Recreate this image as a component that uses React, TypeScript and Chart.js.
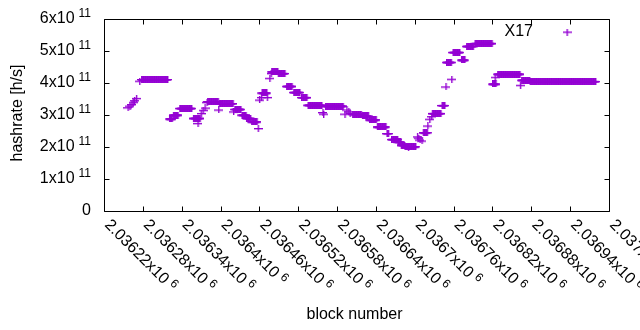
import React, { useEffect, useRef } from "react";
import { Chart, registerables } from "chart.js";

Chart.register(...registerables);

const seriesName = "X17";
const xTitle = "block number";
const yTitle = "hashrate [h/s]";
const xMin = 2036220;
const xMax = 2037000;
const xStep = 60;
const yMin = 0;
const yMax = 6e11;
const yStep = 1e11;
const xExponent = 6;
const yExponent = 11;
const seriesColor = "#9400d3";

// runs of consecutive blocks sharing one hashrate value (single points have start === end)
const runStart = [
  2036257, 2036260, 2036263, 2036265, 2036267, 2036270, 2036275, 2036278, 2036321, 2036327,
  2036337, 2036358, 2036365, 2036370, 2036373, 2036376, 2036379, 2036380, 2036397, 2036398,
  2036420, 2036422, 2036433, 2036440, 2036448, 2036458, 2036460, 2036463, 2036464, 2036472,
  2036476, 2036478, 2036479, 2036489, 2036502, 2036513, 2036525, 2036535, 2036558, 2036559,
  2036562, 2036592, 2036595, 2036598, 2036600, 2036604, 2036619, 2036630, 2036642, 2036657,
  2036664, 2036674, 2036679, 2036685, 2036690, 2036704, 2036706, 2036708, 2036711, 2036713,
  2036720, 2036723, 2036726, 2036727, 2036742, 2036748, 2036749, 2036757, 2036759, 2036772,
  2036780, 2036793, 2036820, 2036824, 2036828, 2036863, 2036865, 2036878,
];
const runEnd = [
  2036257, 2036260, 2036263, 2036265, 2036267, 2036270, 2036275, 2036318, 2036325, 2036334,
  2036355, 2036368, 2036365, 2036370, 2036373, 2036376, 2036379, 2036396, 2036397, 2036419,
  2036420, 2036431, 2036439, 2036446, 2036456, 2036458, 2036460, 2036463, 2036471, 2036472,
  2036476, 2036478, 2036488, 2036499, 2036510, 2036522, 2036533, 2036556, 2036558, 2036559,
  2036589, 2036592, 2036595, 2036598, 2036600, 2036617, 2036628, 2036640, 2036655, 2036659,
  2036673, 2036678, 2036684, 2036701, 2036690, 2036704, 2036706, 2036708, 2036711, 2036719,
  2036720, 2036723, 2036726, 2036740, 2036746, 2036748, 2036756, 2036757, 2036769, 2036777,
  2036790, 2036819, 2036825, 2036824, 2036862, 2036863, 2036877, 2036979,
];
const runHashrate = [
  3.23e11, 3.28e11, 3.33e11, 3.4e11, 3.45e11, 3.52e11, 4.06e11, 4.11e11, 2.88e11, 3.0e11,
  3.21e11, 2.9e11, 2.74e11, 3.05e11, 3.15e11, 3.22e11, 3.4e11, 3.42e11, 3.16e11, 3.36e11,
  3.1e11, 3.18e11, 3.0e11, 2.9e11, 2.79e11, 2.58e11, 3.47e11, 3.55e11, 3.69e11, 3.55e11,
  4.15e11, 4.3e11, 4.35e11, 4.3e11, 3.9e11, 3.71e11, 3.55e11, 3.31e11, 3.08e11, 3.03e11,
  3.28e11, 3.03e11, 3.16e11, 3.1e11, 3.05e11, 3.03e11, 2.97e11, 2.85e11, 2.63e11, 2.42e11,
  2.24e11, 2.16e11, 2.06e11, 2.01e11, 1.97e11, 2.32e11, 2.28e11, 2.22e11, 2.19e11, 2.45e11,
  2.66e11, 2.87e11, 2.95e11, 3.05e11, 3.3e11, 3.88e11, 4.65e11, 4.12e11, 4.96e11, 4.72e11,
  5.15e11, 5.24e11, 3.97e11, 4.18e11, 4.28e11, 3.93e11, 4.09e11, 4.05e11,
];

function buildPoints() {
  const pts: { x: number; y: number }[] = [];
  for (let i = 0; i < runStart.length; i++) {
    for (let b = runStart[i]; b <= runEnd[i]; b++) {
      pts.push({ x: b, y: runHashrate[i] });
    }
  }
  return pts;
}

function makePlus(color: string) {
  const c = document.createElement("canvas");
  c.width = 9;
  c.height = 7;
  const g = c.getContext("2d")!;
  g.fillStyle = color;
  g.fillRect(0, 3, 9, 1);
  g.fillRect(4, 0, 1, 7);
  g.globalAlpha = 0.4;
  g.fillRect(0, 4, 9, 1);
  g.fillRect(5, 0, 1, 7);
  return c;
}

const FONT = '"Liberation Sans", Arial, sans-serif';
const mainFont = `16px ${FONT}`;
const supFont = `12px ${FONT}`;

function fmt(v: number, exp: number) {
  const m = v / Math.pow(10, exp);
  return String(parseFloat(m.toPrecision(10)));
}

export default function App() {
  const ref = useRef<HTMLCanvasElement>(null);
  useEffect(() => {
    const plus = makePlus(seriesColor);
    const framePlugin = {
      id: "gnuplotFrame",
      afterDraw(chart: any) {
        const { ctx, chartArea } = chart;
        const xs = chart.scales.x;
        const ys = chart.scales.y;
        const L = Math.round(chartArea.left) + 0.5;
        const R = Math.round(chartArea.right) + 0.5;
        const T = Math.round(chartArea.top) + 0.5;
        const B = Math.round(chartArea.bottom) + 0.5;
        const tl = 5;
        ctx.save();
        ctx.strokeStyle = "#000";
        ctx.lineWidth = 1;
        ctx.beginPath();
        ctx.rect(L, T, R - L, B - T);
        for (const t of xs.ticks) {
          const px = Math.round(xs.getPixelForValue(t.value)) + 0.5;
          ctx.moveTo(px, B);
          ctx.lineTo(px, B - tl);
          ctx.moveTo(px, T);
          ctx.lineTo(px, T + tl);
        }
        for (const t of ys.ticks) {
          const py = Math.round(ys.getPixelForValue(t.value)) + 0.5;
          ctx.moveTo(L, py);
          ctx.lineTo(L + tl, py);
          ctx.moveTo(R, py);
          ctx.lineTo(R - tl, py);
        }
        ctx.stroke();

        ctx.fillStyle = "#000";
        // y tick labels
        const yRight = 91;
        for (const t of ys.ticks) {
          const py = ys.getPixelForValue(t.value);
          ctx.textBaseline = "middle";
          if (t.value === 0) {
            ctx.font = mainFont;
            ctx.textAlign = "right";
            ctx.fillText("0", yRight, py);
            continue;
          }
          const sup = String(yExponent);
          ctx.font = supFont;
          const ws = ctx.measureText(sup).width;
          ctx.textAlign = "left";
          ctx.fillText(sup, yRight - ws, py - 5);
          ctx.font = mainFont;
          ctx.textAlign = "right";
          ctx.fillText(fmt(t.value, yExponent) + "x10", yRight - ws - 4, py);
        }
        // x tick labels rotated
        for (const t of xs.ticks) {
          const px = xs.getPixelForValue(t.value);
          ctx.save();
          ctx.translate(px + 3, B + 11);
          ctx.rotate(Math.PI / 4);
          ctx.textAlign = "left";
          ctx.textBaseline = "middle";
          ctx.font = mainFont;
          const main = fmt(t.value, xExponent) + "x10";
          ctx.fillText(main, 0, 0);
          const w = ctx.measureText(main).width;
          ctx.font = supFont;
          ctx.fillText(String(xExponent), w + 4, -4);
          ctx.restore();
        }
        // axis titles
        ctx.font = mainFont;
        ctx.textAlign = "center";
        ctx.textBaseline = "middle";
        ctx.fillText(xTitle, (chartArea.left + chartArea.right) / 2 - 2, 315);
        ctx.save();
        ctx.translate(18, (chartArea.top + chartArea.bottom) / 2 - 2);
        ctx.rotate(-Math.PI / 2);
        ctx.fillText(yTitle, 0, 0);
        ctx.restore();
        // key
        ctx.textAlign = "right";
        ctx.fillText(chart.data.datasets[0].label, 533, 32);
        ctx.drawImage(plus, 567 - 4.5, 32 - 3.5);
        ctx.restore();
      },
    };

    const chart = new Chart(ref.current!, {
      type: "scatter",
      data: {
        datasets: [
          {
            label: seriesName,
            data: buildPoints(),
            pointStyle: plus as any,
            pointRadius: 4,
            borderColor: seriesColor,
            backgroundColor: seriesColor,
          },
        ],
      },
      options: {
        responsive: false,
        animation: false,
        devicePixelRatio: 1,
        events: [],
        layout: { padding: { left: 0, top: 19, right: 31, bottom: 0 } },
        plugins: { legend: { display: false }, tooltip: { enabled: false } },
        scales: {
          x: {
            type: "linear",
            min: xMin,
            max: xMax,
            ticks: { stepSize: xStep, display: false },
            grid: { display: false },
            border: { display: false },
            afterFit: (s: any) => {
              s.height = 119;
            },
          },
          y: {
            type: "linear",
            min: yMin,
            max: yMax,
            ticks: { stepSize: yStep, display: false },
            grid: { display: false },
            border: { display: false },
            afterFit: (s: any) => {
              s.width = 104;
            },
          },
        },
      },
      plugins: [framePlugin],
    });
    return () => chart.destroy();
  }, []);
  return (
    <div style={{ position: "absolute", left: 0, top: 0, width: 640, height: 330, background: "#fff" }}>
      <canvas ref={ref} width={640} height={330} style={{ display: "block" }} />
    </div>
  );
}
